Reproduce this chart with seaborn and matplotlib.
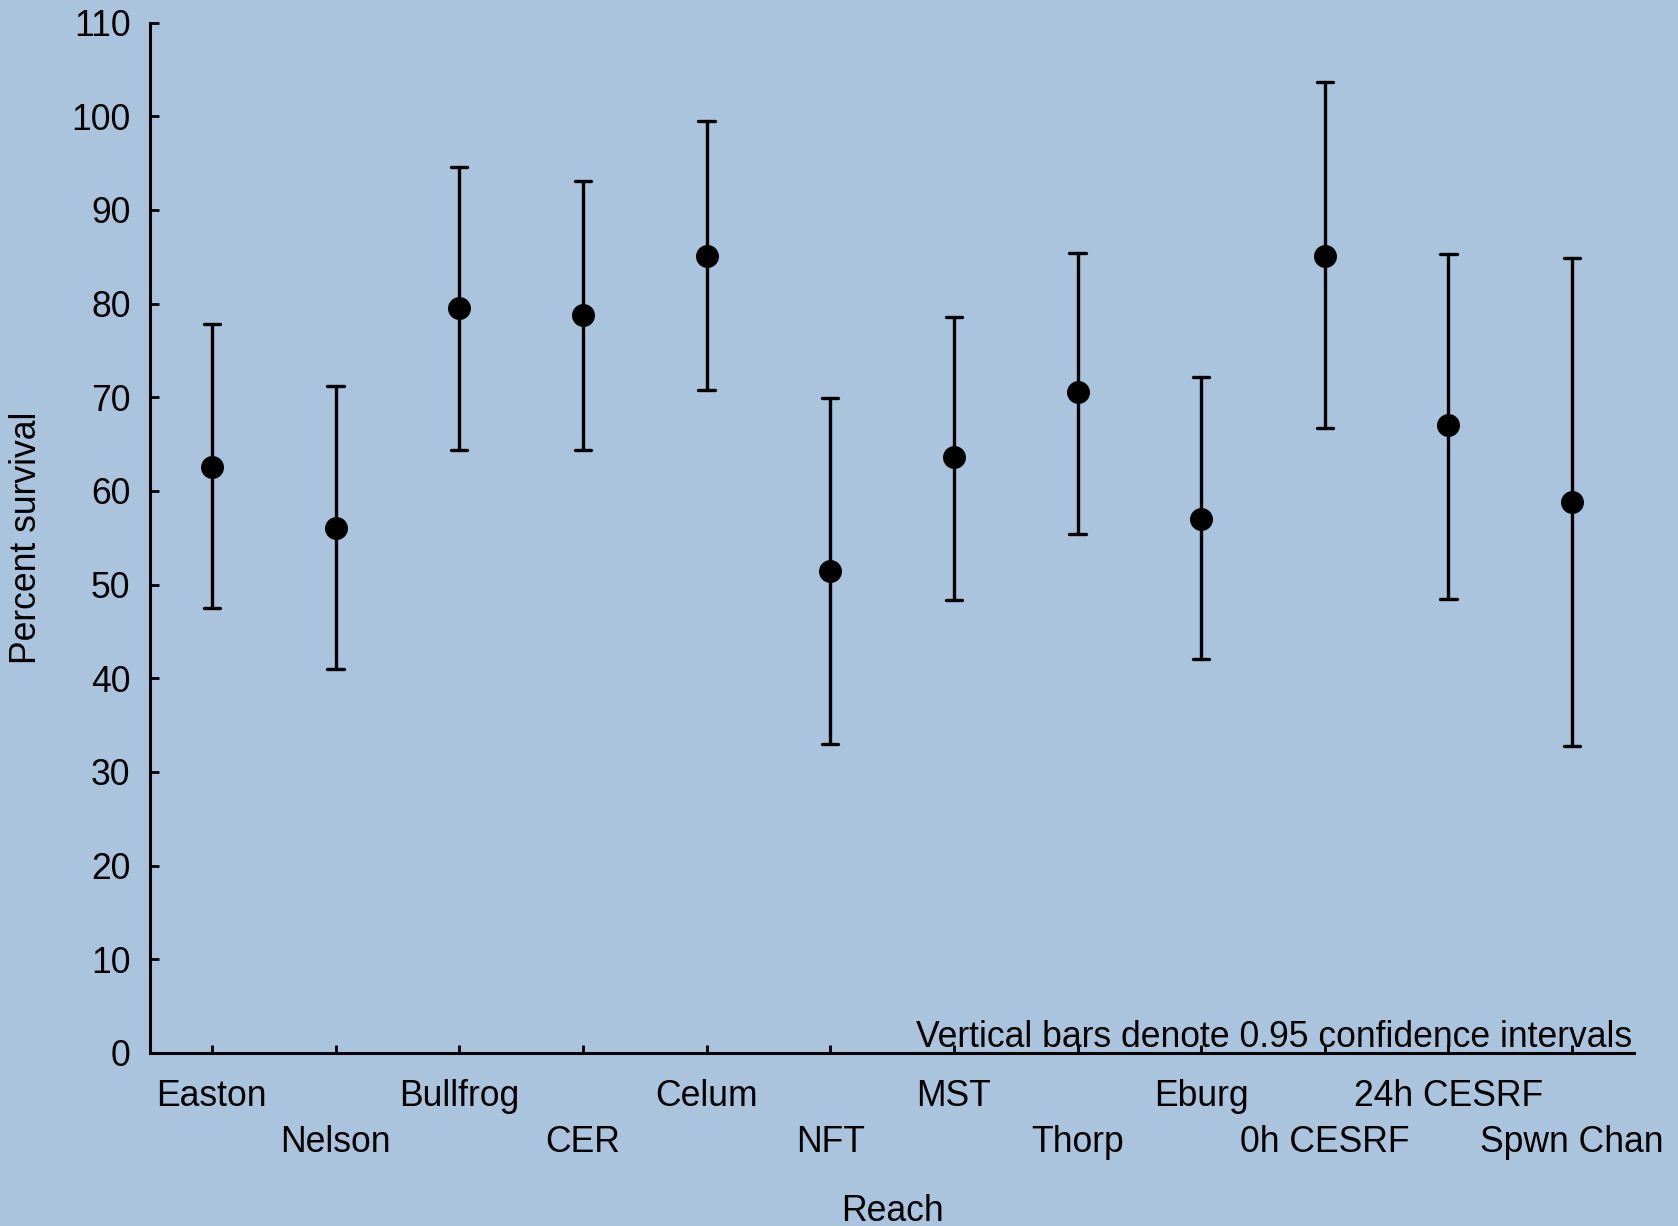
import matplotlib
matplotlib.use("Agg")
import matplotlib.pyplot as plt
import matplotlib.transforms as mtransforms
import seaborn as sns
import pandas as pd

reaches = ["Easton", "Nelson", "Bullfrog", "CER", "Celum", "NFT", "MST",
           "Thorp", "Eburg", "0h CESRF", "24h CESRF", "Spwn Chan"]
survival = [62.6, 56.0, 79.5, 78.8, 85.1, 51.5, 63.6, 70.6, 57.0, 85.1, 67.0, 58.8]
ci_low = [47.5, 41.0, 64.4, 64.4, 70.8, 33.0, 48.4, 55.4, 42.1, 66.7, 48.5, 32.8]
ci_high = [77.8, 71.2, 94.6, 93.1, 99.5, 69.9, 78.6, 85.4, 72.2, 103.6, 85.3, 84.9]
yticks = list(range(0, 111, 10))

rows = []
for r, m, lo, hi in zip(reaches, survival, ci_low, ci_high):
    for v in (lo, m, hi):
        rows.append({"Reach": r, "Percent survival": v})
df = pd.DataFrame(rows)

sns.set_style("white")
bg = "#abc4dd"
fs = 25.6
plt.rcParams["font.family"] = ["Liberation Sans", "DejaVu Sans"]
plt.rcParams["font.size"] = fs
plt.rcParams["text.color"] = "black"
plt.rcParams["axes.labelcolor"] = "black"

fig = plt.figure(figsize=(16.78, 12.26), dpi=100, facecolor=bg)
ax = fig.add_axes([150 / 1678, 1 - 1053 / 1226, (1634 - 150) / 1678, (1053 - 22.5) / 1226])
ax.set_facecolor(bg)

sns.pointplot(data=df, x="Reach", y="Percent survival", order=reaches,
              estimator="median", errorbar=("pi", 100), linestyle="none",
              color="black", markersize=14.5, capsize=0.13,
              err_kws={"linewidth": 2.4}, ax=ax)

ax.set_ylim(0, 110)
ax.set_xlim(-0.5, 11.5)
ax.set_yticks(yticks)
ax.set_yticklabels([str(t) for t in yticks])

for s in ["top", "right"]:
    ax.spines[s].set_visible(False)
for s in ["left", "bottom"]:
    ax.spines[s].set_color("black")
    ax.spines[s].set_linewidth(2.2)

ax.tick_params(axis="y", direction="in", length=6.5, width=2, pad=14.0,
               labelsize=fs, colors="black", left=True)
ax.tick_params(axis="x", direction="in", length=6, width=2, pad=18.5,
               labelsize=fs, colors="black", bottom=True)

ax.set_xticks(range(len(reaches)))
ax.set_xticklabels(reaches)
for i, tick in enumerate(ax.xaxis.get_major_ticks()):
    if i % 2 == 1:
        tick.set_pad(52)

ax.set_xlabel("Reach", fontsize=fs, va="center", color="black")
ax.xaxis.set_label_coords(0.5, -0.154)
ax.set_ylabel("Percent survival", fontsize=fs, va="center", color="black")
ax.yaxis.set_label_coords(-0.0829, 0.5)

ax.text(0.9985, 0.6, "Vertical bars denote 0.95 confidence intervals",
        transform=mtransforms.blended_transform_factory(ax.transAxes, ax.transData),
        ha="right", va="baseline", fontsize=fs, color="black")

fig.savefig("out.png", dpi=100, facecolor=bg)
